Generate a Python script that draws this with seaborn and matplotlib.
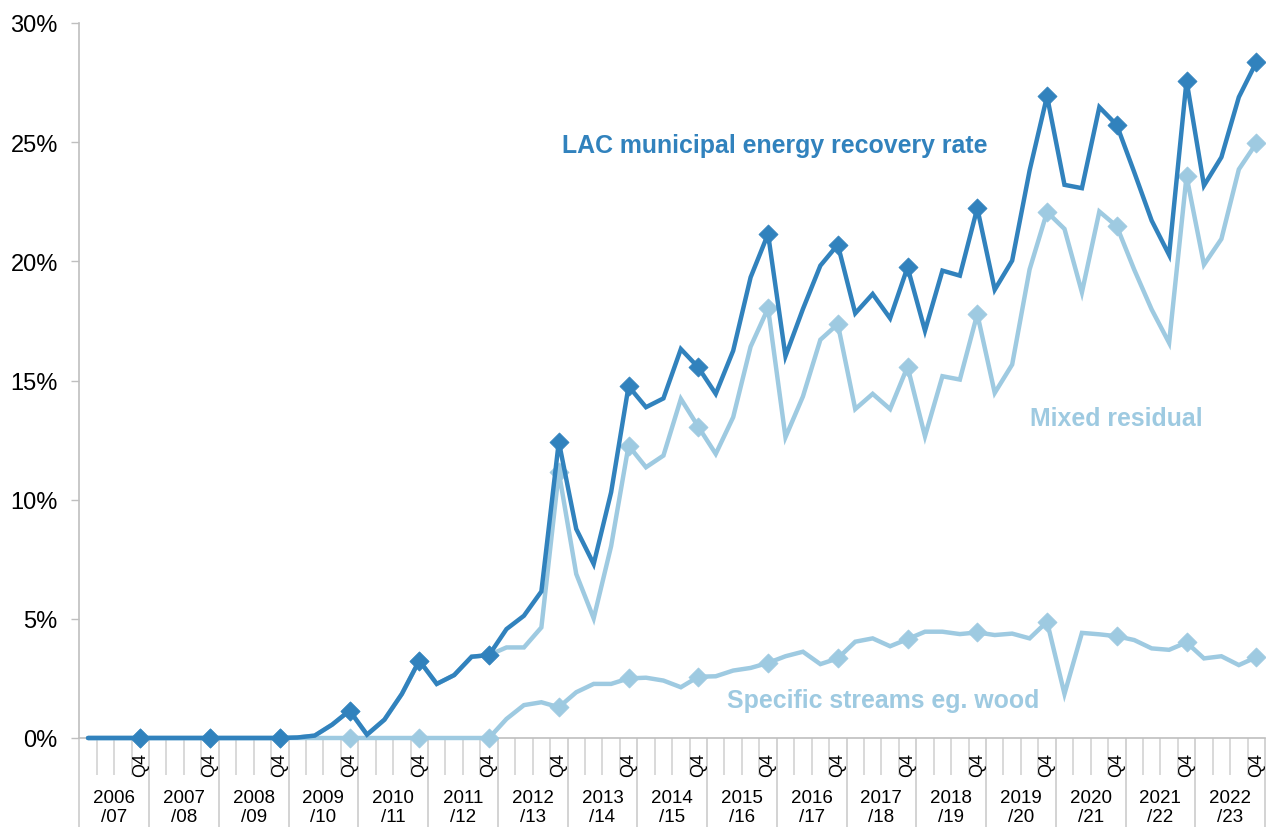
import matplotlib
matplotlib.use("Agg")
import matplotlib.pyplot as plt
import seaborn as sns
import numpy as np
import pandas as pd
from matplotlib.ticker import FuncFormatter

# ---------------- data ----------------
years = ["2006\n/07", "2007\n/08", "2008\n/09", "2009\n/10", "2010\n/11", "2011\n/12",
         "2012\n/13", "2013\n/14", "2014\n/15", "2015\n/16", "2016\n/17", "2017\n/18",
         "2018\n/19", "2019\n/20", "2020\n/21", "2021\n/22", "2022\n/23"]
quarters = ["Q1", "Q2", "Q3", "Q4"]

lac_total = [0, 0, 0, 0, 0, 0, 0, 0, 0, 0, 0, 0,
             0.02, 0.10, 0.56, 1.15, 0.14, 0.77, 1.85, 3.25,
             2.27, 2.64, 3.41, 3.48, 4.57, 5.13, 6.15, 12.43,
             8.77, 7.30, 10.31, 14.76, 13.88, 14.25, 16.32, 15.55,
             14.44, 16.25, 19.33, 21.15, 16.02, 18.00, 19.82, 20.70,
             17.82, 18.63, 17.61, 19.75, 17.09, 19.61, 19.40, 22.23,
             18.81, 20.03, 23.81, 26.93, 23.21, 23.07, 26.47, 25.72,
             23.74, 21.71, 20.27, 27.58, 23.18, 24.37, 26.89, 28.35]

mixed_residual = [0, 0, 0, 0, 0, 0, 0, 0, 0, 0, 0, 0,
                  0.02, 0.10, 0.56, 1.15, 0.14, 0.77, 1.85, 3.25,
                  2.27, 2.64, 3.41, 3.48, 3.80, 3.80, 4.64, 11.16,
                  6.88, 5.02, 8.05, 12.27, 11.36, 11.85, 14.23, 13.06,
                  11.92, 13.46, 16.42, 18.03, 12.62, 14.33, 16.71, 17.37,
                  13.80, 14.44, 13.80, 15.58, 12.66, 15.18, 15.04, 17.79,
                  14.48, 15.67, 19.66, 22.07, 21.36, 18.70, 22.09, 21.47,
                  19.65, 17.98, 16.58, 23.57, 19.86, 20.94, 23.86, 24.95]

specific_streams = [0, 0, 0, 0, 0, 0, 0, 0, 0, 0, 0, 0,
                    0, 0, 0, 0, 0, 0, 0, 0, 0, 0, 0, 0,
                    0.80, 1.38, 1.50, 1.29, 1.92, 2.27, 2.27, 2.50,
                    2.53, 2.41, 2.13, 2.57, 2.59, 2.83, 2.94, 3.15,
                    3.43, 3.62, 3.10, 3.34, 4.04, 4.18, 3.85, 4.15,
                    4.46, 4.46, 4.36, 4.43, 4.32, 4.38, 4.18, 4.88,
                    1.85, 4.41, 4.35, 4.27, 4.11, 3.76, 3.70, 4.01,
                    3.34, 3.43, 3.06, 3.39]

series_names = ["Mixed residual", "Specific streams eg. wood", "LAC municipal energy recovery rate"]
yticks = [0, 5, 10, 15, 20, 25, 30]

# ---------------- frame ----------------
n = len(years) * len(quarters)
idx = np.arange(n)
qlab = [q for _ in years for q in quarters]
df = pd.DataFrame({"idx": idx, "quarter": qlab,
                   series_names[0]: mixed_residual,
                   series_names[1]: specific_streams,
                   series_names[2]: lac_total})
q4 = df[df["quarter"] == "Q4"]

DARK = "#3182BD"
LIGHT = "#9ECAE1"
colors = {series_names[0]: LIGHT, series_names[1]: LIGHT, series_names[2]: DARK}

sns.set_theme(style="white")
plt.rcParams["font.family"] = ["Liberation Sans", "DejaVu Sans"]

fig = plt.figure(figsize=(12.66, 8.28), dpi=100)
ax = fig.add_axes([79.3 / 1266, 1 - 739 / 828, (1265 - 79.3) / 1266, (739 - 24) / 828])

for name in series_names:
    z = 4 if name == series_names[2] else 3
    sns.lineplot(data=df, x="idx", y=name, ax=ax, color=colors[name], lw=3.2,
                 clip_on=False, solid_joinstyle="miter", zorder=z)
    sns.scatterplot(data=q4, x="idx", y=name, ax=ax, color=colors[name], marker="D",
                    s=95, edgecolor=colors[name], linewidth=0.5, clip_on=False, zorder=z)

ax.set_xlim(-0.5, n - 0.5)
ax.set_ylim(0, 30)
ax.set_yticks(yticks)
ax.yaxis.set_major_formatter(FuncFormatter(lambda v, p: f"{v:.0f}%"))
ax.tick_params(axis="y", which="major", direction="out", length=5.5, width=1,
               color="#BFBFBF", labelsize=17, labelcolor="black", pad=10, left=True)
ax.set_ylabel("")
ax.set_xlabel("")

for s in ["top", "right"]:
    ax.spines[s].set_visible(False)
for s in ["left", "bottom"]:
    ax.spines[s].set_color("#BFBFBF")
    ax.spines[s].set_linewidth(1.2)
ax.spines["bottom"].set_zorder(1)

# Q4 labels as x ticks
ax.set_xticks(q4["idx"].values)
ax.set_xticklabels(q4["quarter"].values, rotation=90, fontsize=13)
ax.tick_params(axis="x", length=0, pad=10, labelcolor="black", bottom=True)

# category separator lines
xtr = ax.get_xaxis_transform()
bounds = np.arange(n + 1) - 0.5
short_b = [b for i, b in enumerate(bounds) if i % 4 != 0]
long_b = [b for i, b in enumerate(bounds) if i % 4 == 0]
ax.vlines(short_b, -37 / 715, 0, transform=xtr, colors="#D0D0D0", lw=1.1, clip_on=False, zorder=0)
ax.vlines(long_b, -89 / 715, 0, transform=xtr, colors="#C8C8C8", lw=1.1, clip_on=False, zorder=0)

# year labels
for k, y in enumerate(years):
    ax.text(4 * k + 1.5, -69 / 715, y, transform=xtr, ha="center", va="center",
            fontsize=13.5, color="black", linespacing=1.15)

# series annotations
ax.text(39.36, 24.9, series_names[2], color=DARK, fontsize=17.9, fontweight="bold",
        ha="center", va="center")
ax.text(58.98, 13.43, series_names[0], color=LIGHT, fontsize=17.9, fontweight="bold",
        ha="center", va="center")
ax.text(45.58, 1.61, series_names[1], color=LIGHT, fontsize=17.9, fontweight="bold",
        ha="center", va="center")

fig.savefig("out.png", dpi=100)
